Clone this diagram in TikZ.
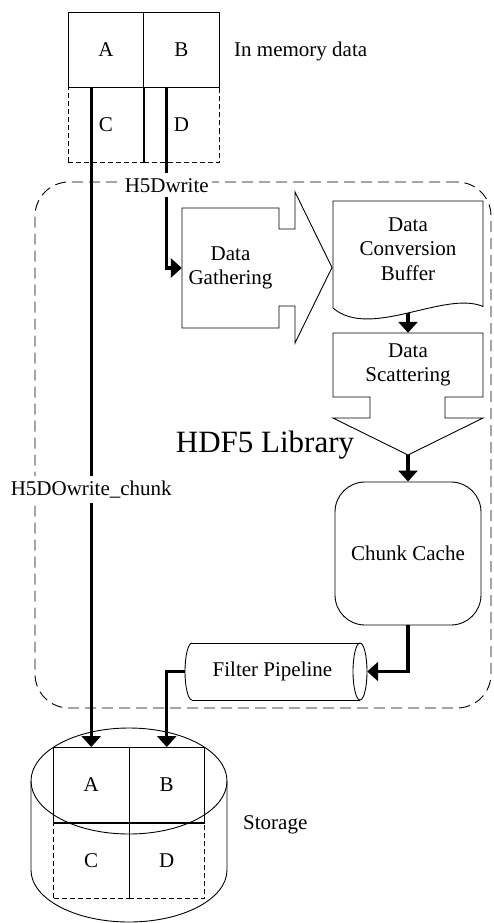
\documentclass[tikz,border=0pt]{standalone}
\usepackage{fontspec}
\setmainfont{Liberation Serif}
\usetikzlibrary{arrows.meta,calc}
\newcommand\lbltext{\fontsize{21}{24.5}\selectfont}
\newcommand\bigtext{\fontsize{31}{36}\selectfont}
\begin{document}
\begin{tikzpicture}[x=1pt,y=-1pt,
  thinline/.style={line width=0.9pt},
  cell/.style={draw,thinline,minimum width=75.5pt,minimum height=75pt,inner sep=0pt,font=\lbltext},
  dashcell/.style={cell,dash pattern=on 5pt off 3pt},
  libbox/.style={draw,line width=0.9pt,dash pattern=on 11pt off 6pt,rounded corners=34pt,inner sep=0pt},
  conn/.style={line width=3.2pt,-{Triangle[width=19pt,length=11pt]}},
  lbl/.style={fill=white,inner xsep=3pt,inner ysep=5pt,font=\lbltext},
  plain/.style={inner sep=0pt,font=\lbltext,align=center},
]
\useasboundingbox (0,0) rectangle (493,923);

% HDF5 library region
\node[libbox,minimum width=456pt,minimum height=526pt] (lib) at (263,445) {};
\node[font=\bigtext,inner sep=0pt] (libname) at (265,445) {HDF5 Library};

% in-memory data grid
\node[cell] (memA) at (106,49.5) {A};
\node[cell] (memB) at (181.5,49.5) {B};
\node[dashcell] (memC) at (106,124.5) {C};
\node[dashcell] (memD) at (181.5,124.5) {D};
\draw[thinline] (memC.north east) -- (memC.south east);
\draw[thinline] (memA.south west) -- (memB.south east);
\node[plain,anchor=west] (memlabel) at (234,51) {In memory data};

% data gathering (arrow shaped block)
\draw[thinline] (182,208) -- (279,208) -- (279,229) -- (295,229) -- (295,192)
  -- (332,267.5) -- (295,343) -- (295,306) -- (279,306) -- (279,328)
  -- (182,328) -- cycle;
\node[plain,minimum width=97pt,minimum height=120pt] (gather) at (230.5,268) {Data\\Gathering};

% data conversion buffer (document shape)
\draw[thinline] (333,308) -- (333,201) -- (483,201) -- (483,306.5)
  .. controls (445,290) and (370,340) .. (333,308) -- cycle;
\node[plain] (buffer) at (408,249) {Data\\Conversion\\Buffer};
\coordinate (bufwave) at (408,313);

% data scattering (downward arrow block)
\draw[thinline] (333,333) -- (483,333) -- (483,397) -- (445,397) -- (445,418)
  -- (483,418) -- (408,455) -- (333,418) -- (370,418) -- (370,397)
  -- (333,397) -- cycle;
\node[plain,minimum width=150pt,minimum height=64pt] (scatter) at (408,365) {Data\\Scattering};
\coordinate (scattip) at (408,455);

% chunk cache
\node[draw,thinline,rounded corners=30pt,minimum width=146pt,minimum height=143pt,font=\lbltext] (cache) at (408,553.5) {Chunk Cache};

% filter pipeline (horizontal cylinder)
\draw[thinline] (192,643) -- (360,643) (192,700) -- (360,700);
\draw[thinline] (360,671.5) ellipse[x radius=7,y radius=28.5];
\draw[thinline] (192,643) arc[start angle=270,end angle=90,x radius=7,y radius=28.5];
\node[plain,minimum width=175pt,minimum height=57pt] (filter) at (272.5,671.5) {Filter Pipeline};

% storage cylinder with its grid
\draw[thinline] (129,781) ellipse[x radius=98,y radius=53];
\draw[thinline] (31,781) -- (31,870) arc[start angle=180,end angle=0,x radius=98,y radius=52] -- (227,781);
\node[cell] (stA) at (91.25,785) {A};
\node[cell] (stB) at (166.75,785) {B};
\node[dashcell] (stC) at (91.25,860.5) {C};
\node[dashcell] (stD) at (166.75,860.5) {D};
\draw[thinline] (stC.north east) -- (stC.south east);
\draw[thinline] (stA.south west) -- (stB.south east);
\node[plain,anchor=west] (stlabel) at (243,825) {Storage};

% data paths
\draw[conn] (memA.south -| stA.north) -- node[lbl,pos=0.61]{H5DOwrite\_chunk} (stA.north);
\draw[conn] (memB.south -| stB.north) |- node[lbl,pos=0.271]{H5Dwrite} (gather.west);
\draw[conn] (bufwave) -- (scatter.north);
\draw[conn] (scattip) -- (cache.north);
\draw[conn] (cache.south) |- ([xshift=7pt]filter.east);
\draw[conn] (filter.west) -| (stB.north);
\end{tikzpicture}
\end{document}
